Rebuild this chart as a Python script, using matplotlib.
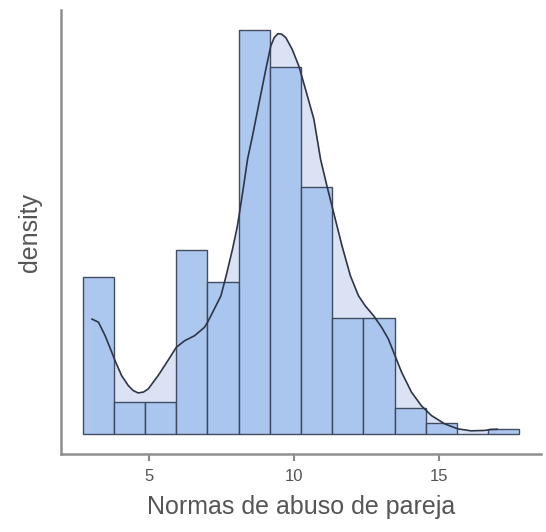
import numpy as np
import matplotlib
matplotlib.use("Agg")
import matplotlib.pyplot as plt

# Histogram: bin range and counts
bin_lo = 2.71
bin_hi = 17.78
counts = [30, 6, 6, 35, 29, 77, 70, 47, 22, 22, 5, 2, 0, 1]

# Density curve readings (x value, density)
curve_x = [3.02, 3.25, 3.48, 3.71, 3.82, 4.05, 4.28, 4.45, 4.62, 4.80, 4.97, 5.31, 5.65, 5.94,
           6.23, 6.57, 6.91, 7.02, 7.25, 7.48, 7.66, 7.88, 8.05, 8.23, 8.40, 8.57,
           8.80, 9.03, 9.20, 9.32, 9.45, 9.58, 9.72, 9.94, 10.17, 10.40, 10.69, 10.92, 11.14,
           11.37, 11.66, 11.95, 12.23, 12.46, 12.75, 13.03, 13.26, 13.49, 13.72,
           14.06, 14.40, 14.75, 15.21, 15.66, 16.12, 16.58, 16.81, 17.03]
curve_y = [0.0578, 0.0562, 0.0494, 0.0411, 0.0369, 0.0293, 0.0243, 0.0218, 0.0206, 0.0210, 0.0226,
           0.0293, 0.0369, 0.0436, 0.0469, 0.0494, 0.0536, 0.0562, 0.0628, 0.0695,
           0.0796, 0.0930, 0.1047, 0.1215, 0.1383, 0.1500, 0.1668, 0.1835, 0.1952,
           0.1995, 0.2015, 0.2012, 0.1995, 0.1936, 0.1852, 0.1735, 0.1584, 0.1383, 0.1248, 0.1115,
           0.0947, 0.0796, 0.0695, 0.0645, 0.0595, 0.0536, 0.0478, 0.0394, 0.0310,
           0.0210, 0.0142, 0.0092, 0.0050, 0.0025, 0.0015, 0.0017, 0.0022, 0.0023]

x_label = "Normas de abuso de pareja"
y_label = "density"
x_ticks = [5, 10, 15]

plt.rcParams['font.family'] = ['Liberation Sans', 'DejaVu Sans']

nbins = len(counts)
edges = np.linspace(bin_lo, bin_hi, nbins + 1)
bw = edges[1] - edges[0]
counts_arr = np.array(counts, dtype=float)
dens = counts_arr / (counts_arr.sum() * bw)

fig = plt.figure(figsize=(5.46, 5.32), dpi=100)
ax = fig.add_axes([61 / 546, 1 - 454 / 532, 480 / 546, 444 / 532])

ax.fill_between(curve_x, curve_y, 0, color='#dae2f4', linewidth=0, zorder=1)
ax.bar(edges[:-1], dens, width=bw, align='edge', color='#a8c5ef',
       edgecolor='#3b4558', linewidth=1.0, alpha=0.95, zorder=2)
ax.plot(curve_x, curve_y, color='#2e3546', linewidth=1.2, zorder=3,
        solid_joinstyle='round', solid_capstyle='round')

rng = bin_hi - bin_lo
ax.set_xlim(bin_lo - 0.05 * rng, bin_hi + 0.05 * rng)
ymax = dens.max()
ax.set_ylim(-0.05 * ymax, 1.05 * ymax)

ax.set_xticks(x_ticks)
ax.set_xticklabels([str(t) for t in x_ticks])
ax.set_yticks([])
ax.tick_params(axis='x', colors='#8a8a8a', length=5, width=1.5, labelsize=12,
               labelcolor='#555555', pad=6)

for s in ['top', 'right']:
    ax.spines[s].set_visible(False)
for s in ['left', 'bottom']:
    ax.spines[s].set_color('#8f8f8f')
    ax.spines[s].set_linewidth(1.8)

ax.set_xlabel(x_label, fontsize=18, color='#555555', labelpad=8)
ax.set_ylabel(y_label, fontsize=18, color='#555555', labelpad=14)

fig.savefig("out.png", dpi=100)
